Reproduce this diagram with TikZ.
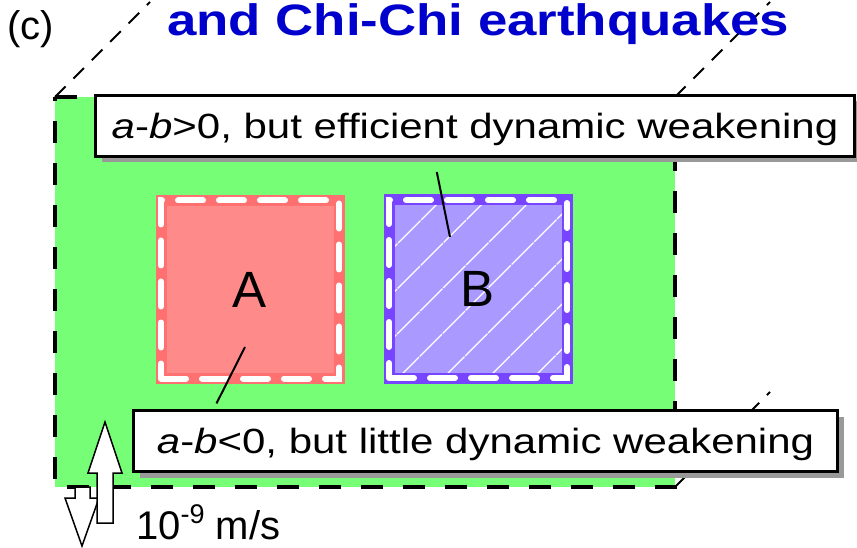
\documentclass[tikz,border=0pt]{standalone}
\usepackage{fontspec}
\setmainfont{Liberation Sans}
\usepackage{graphicx}
\usetikzlibrary{arrows.meta, positioning, calc, shadows, patterns.meta}
\definecolor{planegreen}{HTML}{76FF76}
\definecolor{patchAfill}{HTML}{FF8A8A}
\definecolor{patchAedge}{HTML}{FF7070}
\definecolor{patchBfill}{HTML}{AA99FF}
\definecolor{patchBedge}{HTML}{7744FF}
\definecolor{titleblue}{HTML}{0000CC}
\definecolor{shadowgray}{HTML}{999999}
\newcommand{\widetext}[1]{\scalebox{1.2}[1]{#1}}

\begin{document}
\begin{tikzpicture}[
        x=1pt, y=-1pt,
        patch/.style={
            minimum size=178pt,
            inner sep=0pt,
            line width=11pt,
            font=\fontsize{51}{60}\selectfont,
            postaction={draw=white, line width=6pt, line cap=round,
                dash pattern=on 25pt off 16pt}
        },
        labelbox/.style={
            draw,
            line width=3.5pt,
            fill=white,
            inner sep=0pt,
            minimum height=61pt,
            text depth=0pt,
            font=\fontsize{35}{42}\selectfont,
            drop shadow={shadow xshift=6pt, shadow yshift=-6pt,
                fill=shadowgray, opacity=1}
        },
        plaintext/.style={inner sep=0pt, anchor=base west},
        planeedge/.style={line width=3.5pt, dash pattern=on 22pt off 20pt},
        depthedge/.style={line width=2pt, dash pattern=on 15pt off 11pt},
        labellink/.style={line width=2pt},
        slipmark/.style={draw, fill=white, line width=1.5pt}
    ]
    \useasboundingbox (0,0) rectangle (857,548);
    \fill[white] (0,0) rectangle (857,548);

    % fault plane
    \coordinate (planeNW) at (55,97);
    \coordinate (planeNE) at (675,97);
    \coordinate (planeSE) at (675,487);
    \coordinate (planeSW) at (55,487);
    \fill[planegreen] (planeNW) rectangle (planeSE);
    \draw[planeedge] (planeNW) -- (planeNE) -- (planeSE) -- (planeSW) -- cycle;
    \draw[depthedge] (planeNW) -- ++(95,-95);
    \draw[depthedge] (planeNE) -- ++(95,-95);
    \draw[depthedge] (planeSE) -- ++(95,-95);

    % patches
    \node[patch, draw=patchAedge, fill=patchAfill] (patchA) at (250,289.5) {A};
    \node[patch, draw=patchBedge, preaction={fill=patchBfill},
        pattern={Lines[angle=45, distance=32pt, line width=1.5pt]},
        pattern color=white] (patchB) at (478,289) {B};

    \node[plaintext, text=titleblue, font=\bfseries\fontsize{44}{52}\selectfont]
        (title) at (167,36) {\widetext{and Chi-Chi earthquakes}};
    \node[plaintext, font=\fontsize{40}{48}\selectfont] (panel) at (7,40) {(c)};

    % labels
    \node[labelbox, minimum width=759pt] (efficientbox) at (475,126)
        {\widetext{\textit{a}-\textit{b}>0, but efficient dynamic weakening}};
    \node[labelbox, minimum width=704pt] (littlebox) at (485.5,441)
        {\widetext{\textit{a}-\textit{b}<0, but little dynamic weakening}};

    \coordinate (Bmark) at (450,237);
    \coordinate (Amark) at (245,347);
    \draw[labellink, shorten <=14pt] ([xshift=-41pt]efficientbox.south) -- (Bmark);
    \draw[labellink, shorten <=6pt] ([xshift=-271.7pt]littlebox.north) -- (Amark);

    % slip direction
    \draw[slipmark] (75,487) -- (75,498) -- (65,498) -- (82,546) -- (99,498)
        -- (90,498) -- (90,487) -- cycle;
    \draw[slipmark] (97,523) -- (97,473) -- (88,473) -- (105,422) -- (122,473)
        -- (113,473) -- (113,523) -- cycle;
    \node[plaintext, font=\fontsize{40}{48}\selectfont] (ratelabel) at (136,539)
        {10\raisebox{16pt}{\fontsize{27}{32}\selectfont -9} m/s};
\end{tikzpicture}
\end{document}
